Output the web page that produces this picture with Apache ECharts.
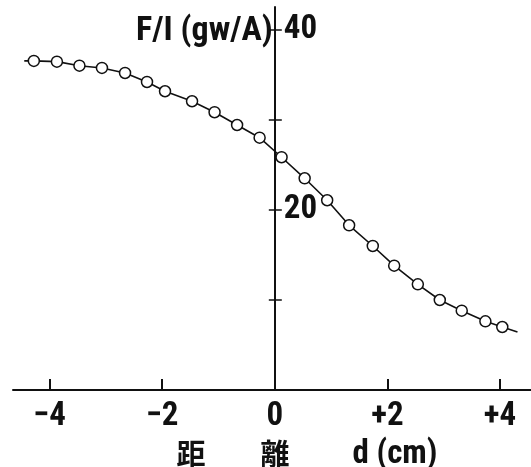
<!DOCTYPE html>
<html><head><meta charset="utf-8">
<script src="https://cdn.jsdelivr.net/npm/echarts@6/dist/echarts.min.js"></script>
<style>html,body{margin:0;padding:0;background:#fff}#c{width:531px;height:467px}</style>
</head><body><div id="c"></div>
<script>
// distance d (cm)
const distance = [-4.45, -4.28, -3.87, -3.47, -3.07, -2.66, -2.27, -1.95, -1.47, -1.07, -0.67, -0.27, 0.12, 0.53, 0.93, 1.32, 1.74, 2.12, 2.54, 2.93, 3.32, 3.74, 4.04, 4.31];
// F/I (gw/A)
const forceRatio = [36.56, 36.56, 36.48, 36.03, 35.78, 35.22, 34.22, 33.19, 32.08, 30.86, 29.44, 28.03, 25.86, 23.52, 21.08, 18.30, 16.0, 13.81, 11.74, 10.0, 8.81, 7.63, 7.0, 6.44];
// first and last entries are the ends of the drawn curve (no marker)
const markerShown = [false, true, true, true, true, true, true, true, true, true, true, true, true, true, true, true, true, true, true, true, true, true, true, false];
const xTicks = [-4, -2, 0, 2, 4];
const xTickLabels = ['\u22124', '\u22122', '0', '+2', '+4'];
const yTicks = [10, 20, 30, 40];
const yLabelValues = [20, 40];

const FONT = '"Roboto Condensed", "DejaVu Sans Condensed", sans-serif';
const CJK = '"Noto Sans CJK JP", sans-serif';

const W = 531;
const xMin = -4.65, xMax = 4.55, yMin = 0, yMax = 42.55;
const gLeft = 13, gRight = 0, gTop = 7, gBottom = 77;
// second grid starts where x = 0 lies in the first grid (holds the right-hand half of the y-axis ticks and labels)
const gLeft2 = gLeft + (0 - xMin) / (xMax - xMin) * (W - gLeft - gRight);

const chart = echarts.init(document.getElementById('c'), null, { renderer: 'canvas' });
chart.setOption({
  animation: false,
  backgroundColor: '#fff',
  grid: [
    { left: gLeft, right: gRight, top: gTop, bottom: gBottom, outerBoundsMode: 'none', containLabel: false },
    { left: gLeft2, right: gRight, top: gTop, bottom: gBottom, outerBoundsMode: 'none', containLabel: false }
  ],
  xAxis: [{
    gridIndex: 0, type: 'value', min: xMin, max: xMax, position: 'bottom',
    axisLine: { show: true, onZero: true, lineStyle: { color: '#111', width: 2 } },
    axisTick: { show: true, inside: true, length: 11, customValues: xTicks, lineStyle: { color: '#111', width: 2 } },
    axisLabel: { show: true, customValues: xTicks, margin: 10,
      formatter: v => { const i = xTicks.indexOf(Math.round(v)); return i >= 0 ? xTickLabels[i] : ''; },
      color: '#111', fontFamily: FONT, fontWeight: 'bold', fontSize: 33 },
    splitLine: { show: false },
    name: '{c|\u8ddd}{s|}{c|\u96e2}{s2|}{l|d (cm)}', nameLocation: 'middle', nameGap: 46,
    nameTextStyle: { color: '#111', padding: [0, 0, 0, 70],
      rich: {
        c: { fontFamily: CJK, fontWeight: 'bold', fontSize: 29, color: '#111' },
        s: { width: 55 },
        s2: { width: 63 },
        l: { fontFamily: FONT, fontWeight: 'bold', fontSize: 33, color: '#111' }
      } }
  }, {
    gridIndex: 1, type: 'value', min: 0, max: xMax, show: false
  }],
  yAxis: [{
    gridIndex: 0, type: 'value', min: yMin, max: yMax, position: 'left',
    axisLine: { show: true, onZero: true, lineStyle: { color: '#111', width: 2 } },
    axisTick: { show: true, inside: false, length: 6, customValues: yTicks, lineStyle: { color: '#111', width: 1.5 } },
    axisLabel: { show: false },
    splitLine: { show: false },
    name: 'F/I (gw/A)', nameLocation: 'end', nameGap: -24,
    nameTextStyle: { color: '#111', fontFamily: FONT, fontWeight: 'bold', fontSize: 34, align: 'right', verticalAlign: 'middle', padding: [0, 2, 0, 0] }
  }, {
    gridIndex: 1, type: 'value', min: yMin, max: yMax, position: 'left',
    axisLine: { show: false },
    axisTick: { show: true, inside: true, length: 7, customValues: yTicks, lineStyle: { color: '#111', width: 1.5 } },
    axisLabel: { show: true, inside: true, margin: 9, customValues: yLabelValues,
      color: '#111', fontFamily: FONT, fontWeight: 'bold', fontSize: 33 },
    splitLine: { show: false }
  }],
  series: [{
    type: 'line', xAxisIndex: 0, yAxisIndex: 0,
    data: distance.map((d, i) => ({ value: [d, forceRatio[i]], symbol: markerShown[i] ? 'circle' : 'none' })),
    symbolSize: 11,
    lineStyle: { color: '#111', width: 1.6 },
    itemStyle: { color: '#fff', borderColor: '#111', borderWidth: 1.5 },
    z: 5
  }]
});
</script></body></html>
